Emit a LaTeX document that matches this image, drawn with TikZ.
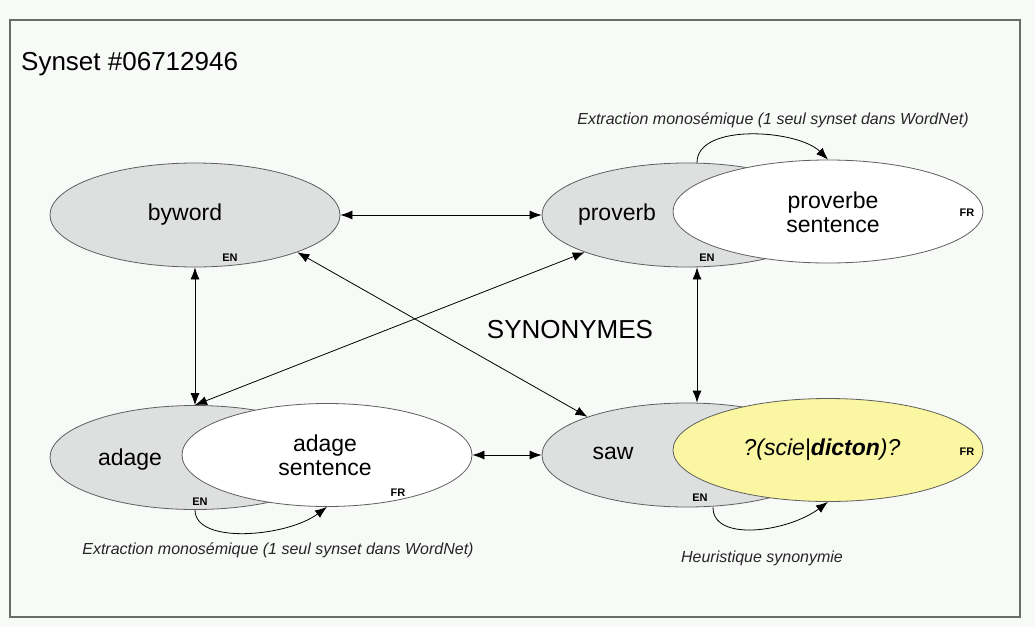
\documentclass[tikz,border=0pt]{standalone}
\usepackage{fontspec}
\setmainfont{Liberation Sans}
\usetikzlibrary{shapes.geometric,arrows.meta,calc}
\definecolor{paper}{RGB}{247,250,247}
\definecolor{engray}{RGB}{222,223,223}
\definecolor{frpale}{RGB}{250,246,162}
\definecolor{rim}{RGB}{95,95,95}
\definecolor{framegray}{RGB}{105,108,105}
\begin{document}
\begin{tikzpicture}[x=1pt,y=-1pt,
  lexeme/.style={ellipse,draw=rim,line width=0.8pt,inner sep=0pt},
  ensense/.style={lexeme,fill=engray,minimum width=290pt,minimum height=104pt},
  frsense/.style={lexeme,fill=white,minimum width=310pt,minimum height=103pt},
  word/.style={font=\fontsize{23}{25}\selectfont,align=center,inner sep=0pt},
  lang/.style={font=\bfseries\fontsize{11}{12}\selectfont,inner sep=0pt},
  note/.style={font=\itshape\fontsize{16}{18}\selectfont,text=black!85,inner sep=0pt},
  link/.style={line width=0.8pt,{Latex[length=12pt,width=9pt]}-{Latex[length=12pt,width=9pt]}},
  oneway/.style={line width=0.8pt,-{Latex[length=12pt,width=9pt]}}]
  % page and frame
  \fill[paper] (0,0) rectangle (1035,627);
  \useasboundingbox (0,0) rectangle (1035,627);
  \draw[framegray,line width=1.5pt] (10,20) rectangle (1020,617);
  \node[anchor=base west,font=\fontsize{26}{28}\selectfont,inner sep=0pt] (title) at (21,70) {Synset \#06712946};

  % English senses
  \node[ensense] (byword) at (195,215) {};
  \node[ensense] (proverb) at (687,215) {};
  \node[ensense] (adage) at (195,457.5) {};
  \node[ensense] (saw) at (687,455) {};

  % French counterparts
  \node[frsense] (proverbfr) at (828,211.5) {};
  \node[frsense,minimum width=290pt] (adagefr) at (327,455) {};
  \node[frsense,fill=frpale] (sawfr) at (828,450) {};

  % words
  \node[word] (tbyword) at (185,215) {byword};
  \node[word] (tproverb) at (617,215) {proverb};
  \node[word] (tadage) at (130,460) {adage};
  \node[word] (tsaw) at (613,453) {saw};
  \node[word] (tproverbfr) at (833,212) {proverbe\\[-1pt]sentence};
  \node[word] (tadagefr) at (325,455) {adage\\[-1pt]sentence};
  \node[word,font=\itshape\fontsize{23}{25}\selectfont] (tsawfr) at (822,450) {?(scie|\textbf{dicton})?};

  % language tags
  \node[lang] (lbyword) at (230,258) {EN};
  \node[lang] (lproverb) at (707,258) {EN};
  \node[lang] (ladage) at (200,502) {EN};
  \node[lang] (lsaw) at (700,498) {EN};
  \node[lang] (lproverbfr) at (967,213) {FR};
  \node[lang] (ladagefr) at (398,493) {FR};
  \node[lang] (lsawfr) at (967,452) {FR};

  % synonymy links
  \draw[link] (byword.east) -- (proverb.west);
  \draw[link] (byword.south) -- (adage.north);
  \draw[link] ([xshift=10pt]proverb.south) -- ([xshift=10pt]saw.north);
  \draw[link] (adagefr.east) -- (saw.west);
  \draw[link] (byword.-20) -- (saw.159);
  \draw[link] (adage.north) -- (proverb.200);
  \node[font=\fontsize{26}{28}\selectfont,inner sep=0pt] (syn) at (570,330) {SYNONYMES};

  % translation loops
  \draw[oneway] ([xshift=10pt]proverb.north) .. controls +(0,-40) and +(-30,-30) .. (proverbfr.north);
  \node[note] (nproverb) at (773,120) {Extraction monosémique (1 seul synset dans WordNet)};
  \draw[oneway] (adage.south) .. controls +(0,35) and +(-40,30) .. (adagefr.south);
  \node[note] (nadage) at (278,550) {Extraction monosémique (1 seul synset dans WordNet)};
  \draw[oneway] ([xshift=26pt]saw.south) .. controls +(0,35) and +(-40,30) .. (sawfr.south);
  \node[note] (nsaw) at (762,558) {Heuristique synonymie};
\end{tikzpicture}
\end{document}
